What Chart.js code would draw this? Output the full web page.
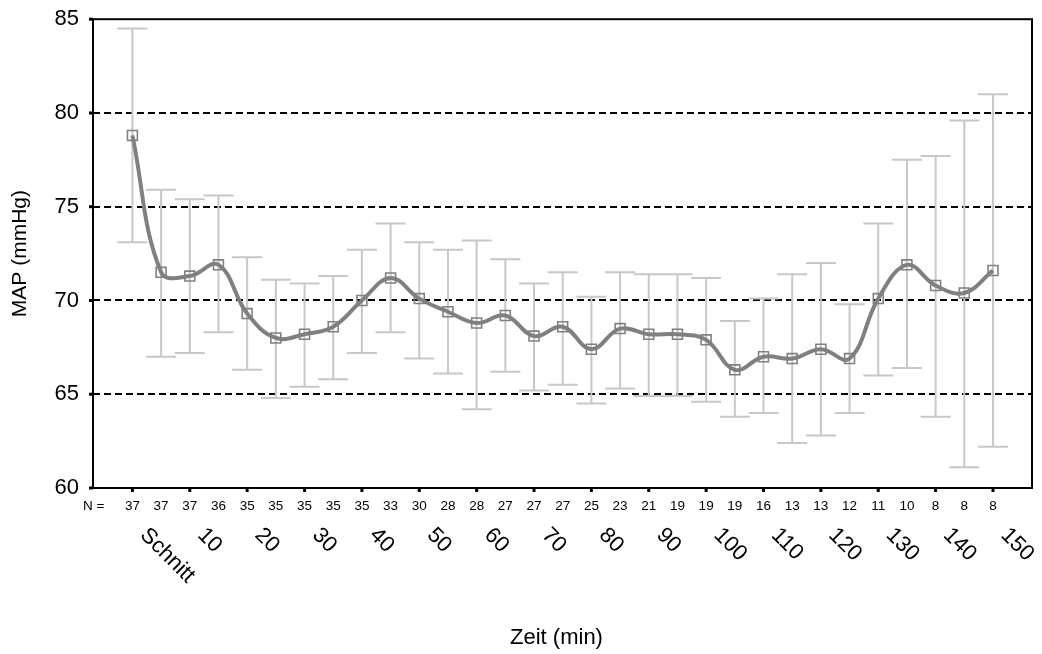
<!DOCTYPE html>
<html>
<head>
<meta charset="utf-8">
<title>MAP</title>
<script src="https://cdn.jsdelivr.net/npm/chart.js@4.4.0/dist/chart.umd.min.js"></script>
<style>
  body { margin: 0; background: #fff; }
  #wrap { width: 1042px; height: 654px; position: relative; }
</style>
</head>
<body>
<div id="wrap"><canvas id="myChart"></canvas></div>
<script>
// Zeitpunkte: Schnitt, dann alle 5 min
const zeiten = ["Schnitt", "5", "10", "15", "20", "25", "30", "35", "40", "45", "50",
  "55", "60", "65", "70", "75", "80", "85", "90", "95", "100",
  "105", "110", "115", "120", "125", "130", "135", "140", "145", "150"];

// Mittelwert MAP
const mapMittel = [78.8, 71.5, 71.3, 71.9, 69.3, 68.0, 68.2, 68.6, 70.0, 71.2, 70.1,
  69.4, 68.8, 69.2, 68.1, 68.6, 67.4, 68.5, 68.2, 68.2, 67.9,
  66.3, 67.0, 66.9, 67.4, 66.9, 70.1, 71.9, 70.8, 70.4, 71.6];

// Fehlerbalken oben / unten
const mapOben = [84.5, 75.9, 75.4, 75.6, 72.3, 71.1, 70.9, 71.3, 72.7, 74.1, 73.1,
  72.7, 73.2, 72.2, 70.9, 71.5, 70.2, 71.5, 71.4, 71.4, 71.2,
  68.9, 70.1, 71.4, 72.0, 69.8, 74.1, 77.5, 77.7, 79.6, 81.0];
const mapUnten = [73.1, 67.0, 67.2, 68.3, 66.3, 64.8, 65.4, 65.8, 67.2, 68.3, 66.9,
  66.1, 64.2, 66.2, 65.2, 65.5, 64.5, 65.3, 64.9, 64.9, 64.6,
  63.8, 64.0, 62.4, 62.8, 64.0, 66.0, 66.4, 63.8, 61.1, 62.2];

// Fallzahlen
const nFaelle = [37, 37, 37, 36, 35, 35, 35, 35, 35, 33, 30, 28, 28, 27, 27, 27,
  25, 23, 21, 19, 19, 19, 16, 13, 13, 12, 11, 10, 8, 8, 8];

const yTicks = [60, 65, 70, 75, 80, 85];
const hilfslinien = [65, 70, 75, 80];

const schrift = "'Liberation Sans', Arial, sans-serif";

const punkte = mapMittel.map((v, i) => ({ x: i, y: v }));

// Rahmen, Hilfslinien und Fehlerbalken
const hintergrund = {
  id: "hintergrund",
  beforeDatasetsDraw(chart) {
    const { ctx, chartArea: a, scales: { x, y } } = chart;
    ctx.save();
    ctx.strokeStyle = "#000";
    ctx.lineWidth = 2;
    ctx.setLineDash([7, 4]);
    for (const v of hilfslinien) {
      const py = Math.round(y.getPixelForValue(v));
      ctx.beginPath();
      ctx.moveTo(a.left, py);
      ctx.lineTo(a.right, py);
      ctx.stroke();
    }
    ctx.setLineDash([]);

    ctx.strokeStyle = "#c8c8c8";
    ctx.lineWidth = 2;
    for (let i = 0; i < mapMittel.length; i++) {
      const px = x.getPixelForValue(i);
      const o = y.getPixelForValue(mapOben[i]);
      const u = y.getPixelForValue(mapUnten[i]);
      ctx.beginPath();
      ctx.moveTo(px, o); ctx.lineTo(px, u);
      ctx.moveTo(px - 15, o); ctx.lineTo(px + 15, o);
      ctx.moveTo(px - 15, u); ctx.lineTo(px + 15, u);
      ctx.stroke();
    }
    ctx.restore();
  },
  afterDraw(chart) {
    const { ctx, chartArea: a, scales: { x, y } } = chart;
    ctx.save();
    ctx.strokeStyle = "#000";
    ctx.lineWidth = 2;
    ctx.strokeRect(a.left, a.top, a.right - a.left, a.bottom - a.top);

    // Teilstriche
    ctx.fillStyle = "#000";
    for (const v of yTicks) {
      ctx.fillRect(a.left - 4, y.getPixelForValue(v) - 1.5, 4, 3);
    }
    for (let i = 0; i < zeiten.length; i += 2) {
      ctx.fillRect(x.getPixelForValue(i) - 1.5, a.bottom, 3, 4);
    }

    // N-Zeile
    ctx.font = "13.5px " + schrift;
    ctx.textBaseline = "middle";
    ctx.textAlign = "left";
    ctx.fillText("N =", 83, a.bottom + 18);
    ctx.textAlign = "center";
    nFaelle.forEach((n, i) => ctx.fillText(String(n), x.getPixelForValue(i), a.bottom + 18));

    // gedrehte Zeitbeschriftung
    ctx.font = "22px " + schrift;
    ctx.textAlign = "left";
    ctx.textBaseline = "top";
    for (let i = 0; i < zeiten.length; i += 2) {
      ctx.save();
      ctx.translate(x.getPixelForValue(i) + 19, a.bottom + 36);
      ctx.rotate(Math.PI / 4);
      ctx.fillText(zeiten[i], 0, 0);
      ctx.restore();
    }

    ctx.font = "22px " + schrift;
    ctx.textAlign = "center";
    ctx.textBaseline = "middle";
    ctx.fillText("Zeit (min)", (a.left + a.right) / 2 - 6, 638);
    ctx.restore();
  }
};

new Chart(document.getElementById("myChart"), {
  type: "line",
  data: {
    datasets: [{
      data: punkte,
      borderColor: "#808080",
      borderWidth: 4,
      tension: 0.4,
      pointStyle: "rect",
      pointRadius: 7,
      pointBorderWidth: 1.6,
      pointBorderColor: "#808080",
      pointBackgroundColor: "rgba(255,255,255,0)"
    }]
  },
  options: {
    responsive: true,
    maintainAspectRatio: false,
    animation: false,
    layout: { padding: { top: 18, right: 10, bottom: 166, left: 0 } },
    plugins: { legend: { display: false }, tooltip: { enabled: false } },
    scales: {
      x: {
        type: "linear",
        display: false,
        min: -1.374,
        max: 31.36
      },
      y: {
        min: 60,
        max: 85,
        afterFit(scale) { scale.width = 93; },
        afterBuildTicks(scale) { scale.ticks = yTicks.map(v => ({ value: v })); },
        grid: { display: false },
        border: { display: false },
        ticks: {
          color: "#000",
          padding: 6,
          font: { family: schrift, size: 22 }
        },
        title: {
          display: true,
          text: "MAP (mmHg)",
          color: "#000",
          padding: { top: 8, bottom: 0 },
          font: { family: schrift, size: 21 }
        }
      }
    }
  },
  plugins: [hintergrund]
});
</script>
</body>
</html>
